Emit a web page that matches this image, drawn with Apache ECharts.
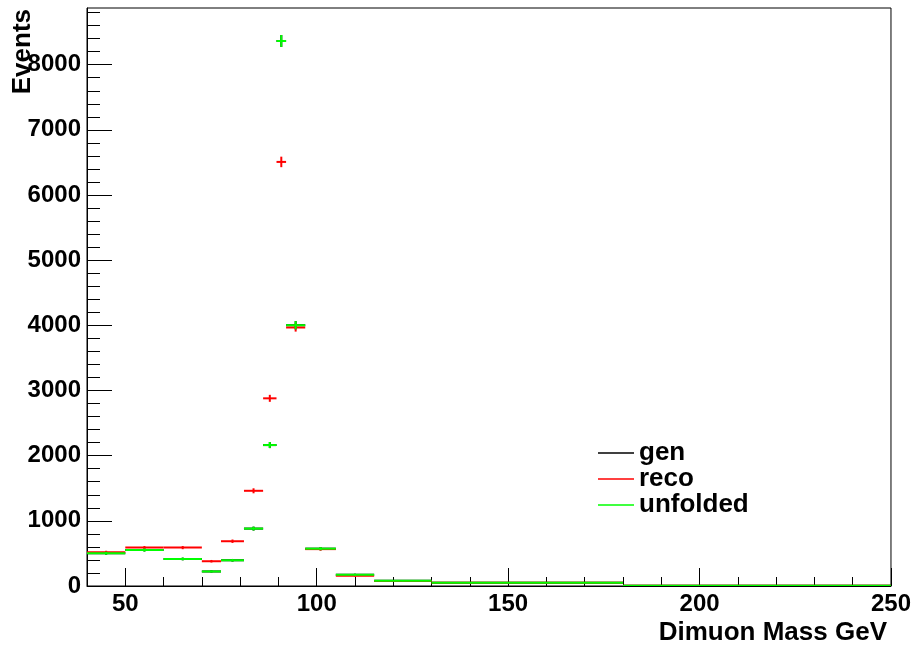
<!DOCTYPE html>
<html>
<head>
<meta charset="utf-8">
<script src="https://cdn.jsdelivr.net/npm/echarts@6/dist/echarts.min.js"></script>
<style>html,body{margin:0;padding:0;background:#fff}#c{width:914px;height:646px}</style>
</head>
<body>
<div id="c"></div>
<script>
// Bin edges (GeV)
var binEdges = [40, 50, 60, 70, 75, 81, 86, 89.5, 92, 97, 105, 115, 130, 180, 250];
// Events per bin
var genValues      = [503, 553, 415, 223, 395, 881, 2163, 8364, 4002, 573, 174, 81, 51, 3];
var recoValues     = [518, 589, 589, 380, 687, 1461, 2880, 6508, 3967, 566, 158, 78, 48, 3];
var unfoldedValues = [503, 553, 415, 223, 395, 881, 2163, 8364, 4002, 573, 174, 81, 51, 3];
// Axis ticks
var xMajorTicks = [50, 100, 150, 200, 250];
var xMinorTicks = [50, 60, 70, 80, 90, 100, 110, 120, 130, 140, 150, 160, 170, 180, 190, 200, 210, 220, 230, 240, 250];
var yMajorTicks = [0, 1000, 2000, 3000, 4000, 5000, 6000, 7000, 8000];
var yMinorTicks = [200, 400, 600, 800, 1200, 1400, 1600, 1800, 2200, 2400, 2600, 2800, 3200, 3400, 3600, 3800, 4200, 4400, 4600, 4800, 5200, 5400, 5600, 5800, 6200, 6400, 6600, 6800, 7200, 7400, 7600, 7800, 8200, 8400, 8600, 8800];

var FONT = '"Liberation Sans", Arial, sans-serif';

function histData(vals) {
  return vals.map(function (v, i) { return [binEdges[i], binEdges[i + 1], v]; });
}

function renderHist(color) {
  return function (params, api) {
    var lo = api.value(0), hi = api.value(1), v = api.value(2);
    var err = Math.sqrt(v);
    var mid = (lo + hi) / 2;
    var a = api.coord([lo, v]), b = api.coord([hi, v]);
    var t = api.coord([mid, v + err]), d = api.coord([mid, Math.max(0, v - err)]);
    var st = { stroke: color, lineWidth: 2 };
    return {
      type: 'group',
      children: [
        { type: 'line', shape: { x1: a[0], y1: a[1], x2: b[0], y2: b[1] }, style: st },
        { type: 'line', shape: { x1: t[0], y1: t[1], x2: d[0], y2: d[1] }, style: st }
      ]
    };
  };
}

var chart = echarts.init(document.getElementById('c'), null, { renderer: 'canvas' });

var axisLine = { show: true, lineStyle: { color: '#000', width: 1 } };
var plainNum = function (v) { return String(v); };

var option = {
  animation: false,
  backgroundColor: '#fff',
  grid: { left: 87, right: 23, top: 8, bottom: 60, show: true, borderColor: '#000', borderWidth: 1, backgroundColor: 'transparent' },
  xAxis: [
    {
      type: 'value', min: 40, max: 250,
      axisLine: axisLine,
      axisTick: { show: true, inside: true, length: 18, customValues: xMajorTicks, lineStyle: { color: '#000' } },
      axisLabel: { show: true, customValues: xMajorTicks, formatter: plainNum, margin: 6, color: '#000', fontSize: 24, fontWeight: 'bold', fontFamily: FONT },
      splitLine: { show: false }
    },
    {
      type: 'value', min: 40, max: 250, gridIndex: 0, position: 'bottom',
      axisLine: { show: false },
      axisTick: { show: true, inside: true, length: 9, customValues: xMinorTicks, lineStyle: { color: '#000' } },
      axisLabel: { show: false },
      splitLine: { show: false }
    }
  ],
  yAxis: [
    {
      type: 'value', min: 0, max: 8870,
      axisLine: axisLine,
      axisTick: { show: true, inside: true, length: 25, customValues: yMajorTicks, lineStyle: { color: '#000' } },
      axisLabel: { show: true, customValues: yMajorTicks, formatter: plainNum, margin: 6, color: '#000', fontSize: 24, fontWeight: 'bold', fontFamily: FONT },
      splitLine: { show: false }
    },
    {
      type: 'value', min: 0, max: 8870, gridIndex: 0, position: 'left',
      axisLine: { show: false },
      axisTick: { show: true, inside: true, length: 13, customValues: yMinorTicks, lineStyle: { color: '#000' } },
      axisLabel: { show: false },
      splitLine: { show: false }
    }
  ],
  legend: {
    orient: 'vertical', left: 598, top: 440, padding: 0, itemGap: 0,
    itemWidth: 36, itemHeight: 1.5, icon: 'rect',
    textStyle: { fontSize: 26, fontWeight: 'bold', fontFamily: FONT, color: '#000', lineHeight: 25 },
    data: [
      { name: 'gen', itemStyle: { color: '#000' } },
      { name: 'reco', itemStyle: { color: '#ff0000' } },
      { name: 'unfolded', itemStyle: { color: '#00ff00' } }
    ]
  },
  graphic: [
    { type: 'text', x: 23, y: 9, rotation: Math.PI / 2,
      style: { text: 'Events', textAlign: 'right', textVerticalAlign: 'middle', font: 'bold 26px ' + FONT, fill: '#000' } },
    { type: 'text', x: 887, y: 633,
      style: { text: 'Dimuon Mass GeV', textAlign: 'right', textVerticalAlign: 'middle', font: 'bold 26px ' + FONT, fill: '#000' } }
  ],
  series: [
    { name: 'gen', type: 'custom', renderItem: renderHist('#000'), data: histData(genValues), encode: { x: [0, 1], y: 2 }, itemStyle: { color: '#000' }, clip: true },
    { name: 'reco', type: 'custom', renderItem: renderHist('#ff0000'), data: histData(recoValues), encode: { x: [0, 1], y: 2 }, itemStyle: { color: '#ff0000' }, clip: true },
    { name: 'unfolded', type: 'custom', renderItem: renderHist('#00ff00'), data: histData(unfoldedValues), encode: { x: [0, 1], y: 2 }, itemStyle: { color: '#00ff00' }, clip: true }
  ]
};
chart.setOption(option);
</script>
</body>
</html>
